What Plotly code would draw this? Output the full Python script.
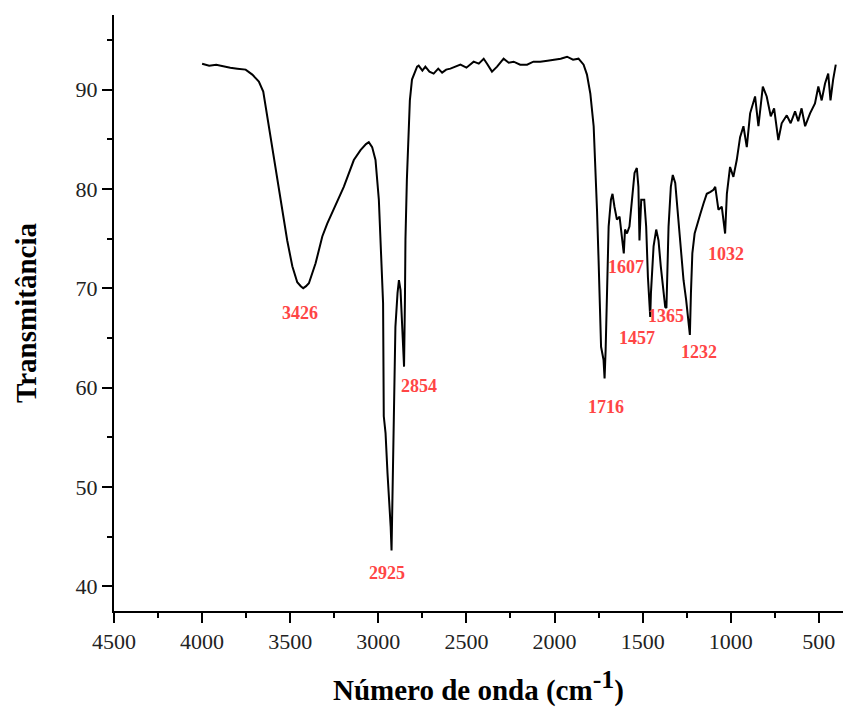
import plotly.graph_objects as go

# FTIR spectrum: wavenumber (cm-1) vs transmittance (%)
wavenumber = [
    4000, 3960, 3920, 3876, 3840, 3800, 3753, 3715, 3678, 3653, 3630, 3593,
    3555, 3517, 3488, 3460, 3440, 3426, 3410, 3394, 3356, 3318, 3290, 3253,
    3196, 3139, 3101, 3070, 3054, 3035, 3016, 2997, 2984, 2973, 2969, 2959,
    2948, 2937, 2930, 2925, 2922, 2914, 2908, 2903, 2891, 2883, 2874, 2869,
    2863, 2854, 2849, 2846, 2838, 2828, 2821, 2809, 2780, 2771, 2750, 2733,
    2710, 2686, 2660, 2638, 2615, 2591, 2560, 2534, 2500, 2459, 2430, 2402,
    2383, 2355, 2326, 2289, 2260, 2232, 2195, 2156, 2120, 2081, 2040, 2005,
    1965, 1929, 1895, 1864, 1835, 1816, 1797, 1778, 1769, 1759, 1750, 1744,
    1736, 1722, 1716, 1710, 1702, 1693, 1680, 1671, 1660, 1646, 1631, 1623,
    1614, 1607, 1600, 1589, 1575, 1561, 1546, 1533, 1524, 1518, 1508, 1491,
    1480, 1470, 1457, 1453, 1438, 1423, 1410, 1397, 1382, 1372, 1365, 1360,
    1353, 1340, 1329, 1315, 1302, 1287, 1268, 1253, 1243, 1232, 1226, 1218,
    1205, 1190, 1174, 1155, 1136, 1115, 1098, 1088, 1070, 1051, 1040, 1032,
    1022, 1004, 985, 966, 947, 928, 909, 890, 862, 843, 818, 796, 773, 754,
    730, 711, 682, 660, 635, 617, 598, 578, 550, 522, 503, 484, 465, 447,
    434, 419, 404,
]
transmittance = [
    92.6, 92.4, 92.5, 92.3, 92.2, 92.1, 92.0, 91.5, 90.8, 89.8, 87.3, 82.9,
    78.9, 74.8, 72.2, 70.6, 70.2, 70.0, 70.2, 70.5, 72.5, 75.2, 76.5, 77.9,
    80.2, 82.9, 83.9, 84.5, 84.7, 84.2, 82.9, 78.9, 73.8, 68.5, 57.1, 55.4,
    51.4, 48.7, 46.0, 43.6, 46.6, 52.0, 58.7, 66.1, 69.5, 70.8, 69.8, 67.8,
    64.8, 62.1, 68.8, 74.9, 80.9, 84.9, 88.9, 91.0, 92.3, 92.4, 91.9, 92.3,
    91.8, 91.6, 92.1, 91.7, 92.0, 92.1, 92.3, 92.5, 92.2, 92.8, 92.6, 93.1,
    92.6, 91.8, 92.3, 93.1, 92.7, 92.8, 92.5, 92.5, 92.8, 92.8, 92.9, 93.0,
    93.1, 93.3, 93.0, 93.1, 92.5, 91.5, 89.6, 86.3, 82.9, 77.9, 72.8, 67.8,
    64.1, 62.8, 60.9, 63.8, 69.5, 76.2, 78.9, 79.5, 78.2, 76.9, 77.2, 75.9,
    74.8, 73.5, 75.9, 75.5, 76.2, 78.9, 81.6, 82.1, 80.2, 74.8, 78.9, 78.9,
    76.2, 71.1, 67.1, 69.5, 74.2, 75.9, 74.8, 72.2, 69.5, 68.1, 68.0, 71.1,
    76.2, 80.2, 81.4, 80.6, 77.9, 74.2, 70.8, 68.8, 67.0, 65.3, 69.5, 73.5,
    75.5, 76.5, 77.4, 78.5, 79.5, 79.7, 79.9, 80.2, 77.9, 78.2, 76.5, 75.5,
    79.5, 82.2, 81.2, 82.9, 85.2, 86.3, 84.2, 87.6, 89.3, 86.3, 90.3, 89.3,
    87.3, 88.1, 84.9, 86.6, 87.4, 86.6, 87.8, 86.8, 88.1, 86.3, 87.6, 88.6,
    90.3, 88.9, 90.6, 91.6, 88.9, 91.0, 92.5,
]

# Band assignments written next to their absorption minima
peak_labels = ["3426", "2925", "2854", "1716", "1607", "1457", "1365", "1232", "1032"]
label_x = [3447, 2953, 2772, 1707, 1593, 1531, 1366, 1179, 1025]
label_y = [67.5, 41.3, 60.2, 58.0, 72.1, 65.0, 67.2, 63.6, 73.4]

x_ticks = [4500, 4000, 3500, 3000, 2500, 2000, 1500, 1000, 500]
y_ticks = [40, 50, 60, 70, 80, 90]

serif = "Liberation Serif, Times New Roman, serif"

fig = go.Figure()
fig.add_trace(go.Scatter(
    x=wavenumber, y=transmittance, mode="lines",
    line=dict(color="black", width=2), showlegend=False,
))

for text, xv, yv in zip(peak_labels, label_x, label_y):
    fig.add_annotation(
        x=xv, y=yv, text=f"<b>{text}</b>", showarrow=False,
        font=dict(family=serif, size=18, color="#ff4545"),
    )

axis_common = dict(
    showline=True, linecolor="black", linewidth=2,
    ticks="outside", ticklen=10, tickwidth=2, tickcolor="black",
    showgrid=False, zeroline=False,
    tickfont=dict(family=serif, size=22, color="#222222"),
)

fig.update_xaxes(
    range=[4500, 363], tickvals=x_ticks,
    minor=dict(dtick=250, ticks="outside", ticklen=5, tickwidth=2, tickcolor="black"),
    title=dict(text="<b>Número de onda (cm<sup><span style='font-size:26px'>-1</span></sup>)</b>",
               font=dict(family=serif, size=29, color="black"), standoff=26),
    **axis_common,
)
fig.update_yaxes(
    range=[37.5, 97.5], tickvals=y_ticks,
    minor=dict(dtick=5, ticks="outside", ticklen=5, tickwidth=2, tickcolor="black"),
    title=dict(text="<b>Transmitância</b>",
               font=dict(family=serif, size=29, color="black"), standoff=30),
    **axis_common,
)

fig.update_layout(
    width=843, height=716,
    margin=dict(l=114, r=0, t=15, b=105),
    paper_bgcolor="white", plot_bgcolor="white",
)

fig.write_html("out.html")
